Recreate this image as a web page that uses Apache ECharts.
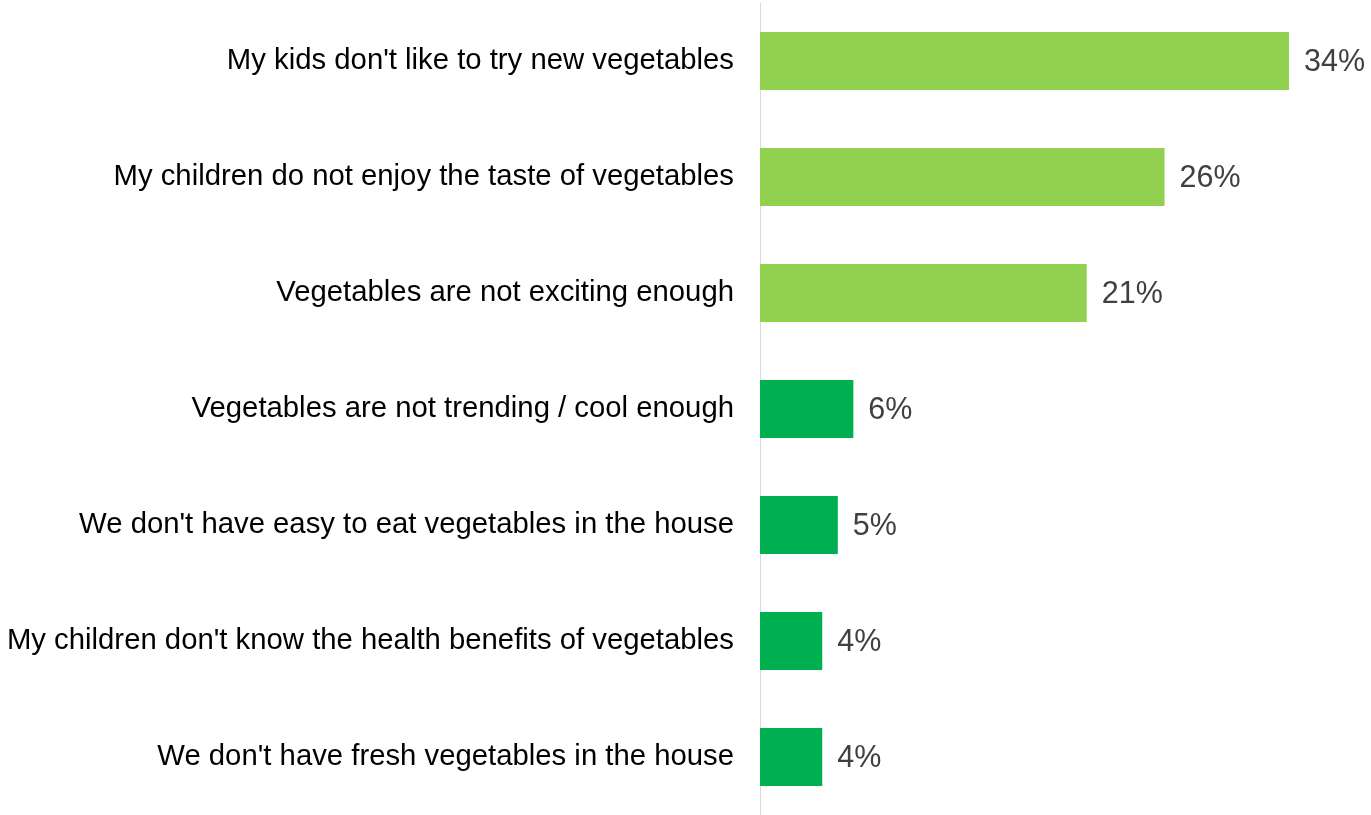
<!DOCTYPE html>
<html>
<head>
<meta charset="utf-8">
<script src="https://cdn.jsdelivr.net/npm/echarts@6/dist/echarts.min.js"></script>
<style>
  html, body { margin: 0; padding: 0; background: #ffffff; }
  #chart { width: 1371px; height: 815px; }
</style>
</head>
<body>
<div id="chart"></div>
<script>
// Reasons children avoid vegetables (top to bottom)
const categories = [
  "My kids don't like to try new vegetables",
  "My children do not enjoy the taste of vegetables",
  "Vegetables are not exciting enough",
  "Vegetables are not trending / cool enough",
  "We don't have easy to eat vegetables in the house",
  "My children don't know the health benefits of vegetables",
  "We don't have fresh vegetables in the house"
];
const values = [34, 26, 21, 6, 5, 4, 4];
// true = taste/interest group (light green), false = other (dark green)
const highlighted = [true, true, true, false, false, false, false];

const LIGHT = '#92D050';
const DARK = '#00B050';

const chart = echarts.init(document.getElementById('chart'));
chart.setOption({
  animation: false,
  grid: { left: 760, right: 82, top: 3, bottom: -2, containLabel: false },
  xAxis: {
    type: 'value',
    min: 0,
    max: 34,
    show: false
  },
  yAxis: {
    type: 'category',
    inverse: true,
    data: categories,
    axisLine: { show: true, lineStyle: { color: '#d9d9d9', width: 1 } },
    axisTick: { show: false },
    axisLabel: {
      color: '#000000',
      fontFamily: 'Liberation Sans, Arial, sans-serif',
      fontSize: 29.3,
      margin: 26,
      padding: [6, 0, 0, 0]
    }
  },
  series: [{
    type: 'bar',
    barWidth: '50%',
    data: values.map((v, i) => ({
      value: v,
      itemStyle: { color: highlighted[i] ? LIGHT : DARK }
    })),
    label: {
      show: true,
      position: 'right',
      distance: 15,
      offset: [0, 2],
      formatter: p => p.value + '%',
      color: '#404040',
      fontFamily: 'Liberation Sans, Arial, sans-serif',
      fontSize: 30.5
    }
  }]
});
</script>
</body>
</html>
